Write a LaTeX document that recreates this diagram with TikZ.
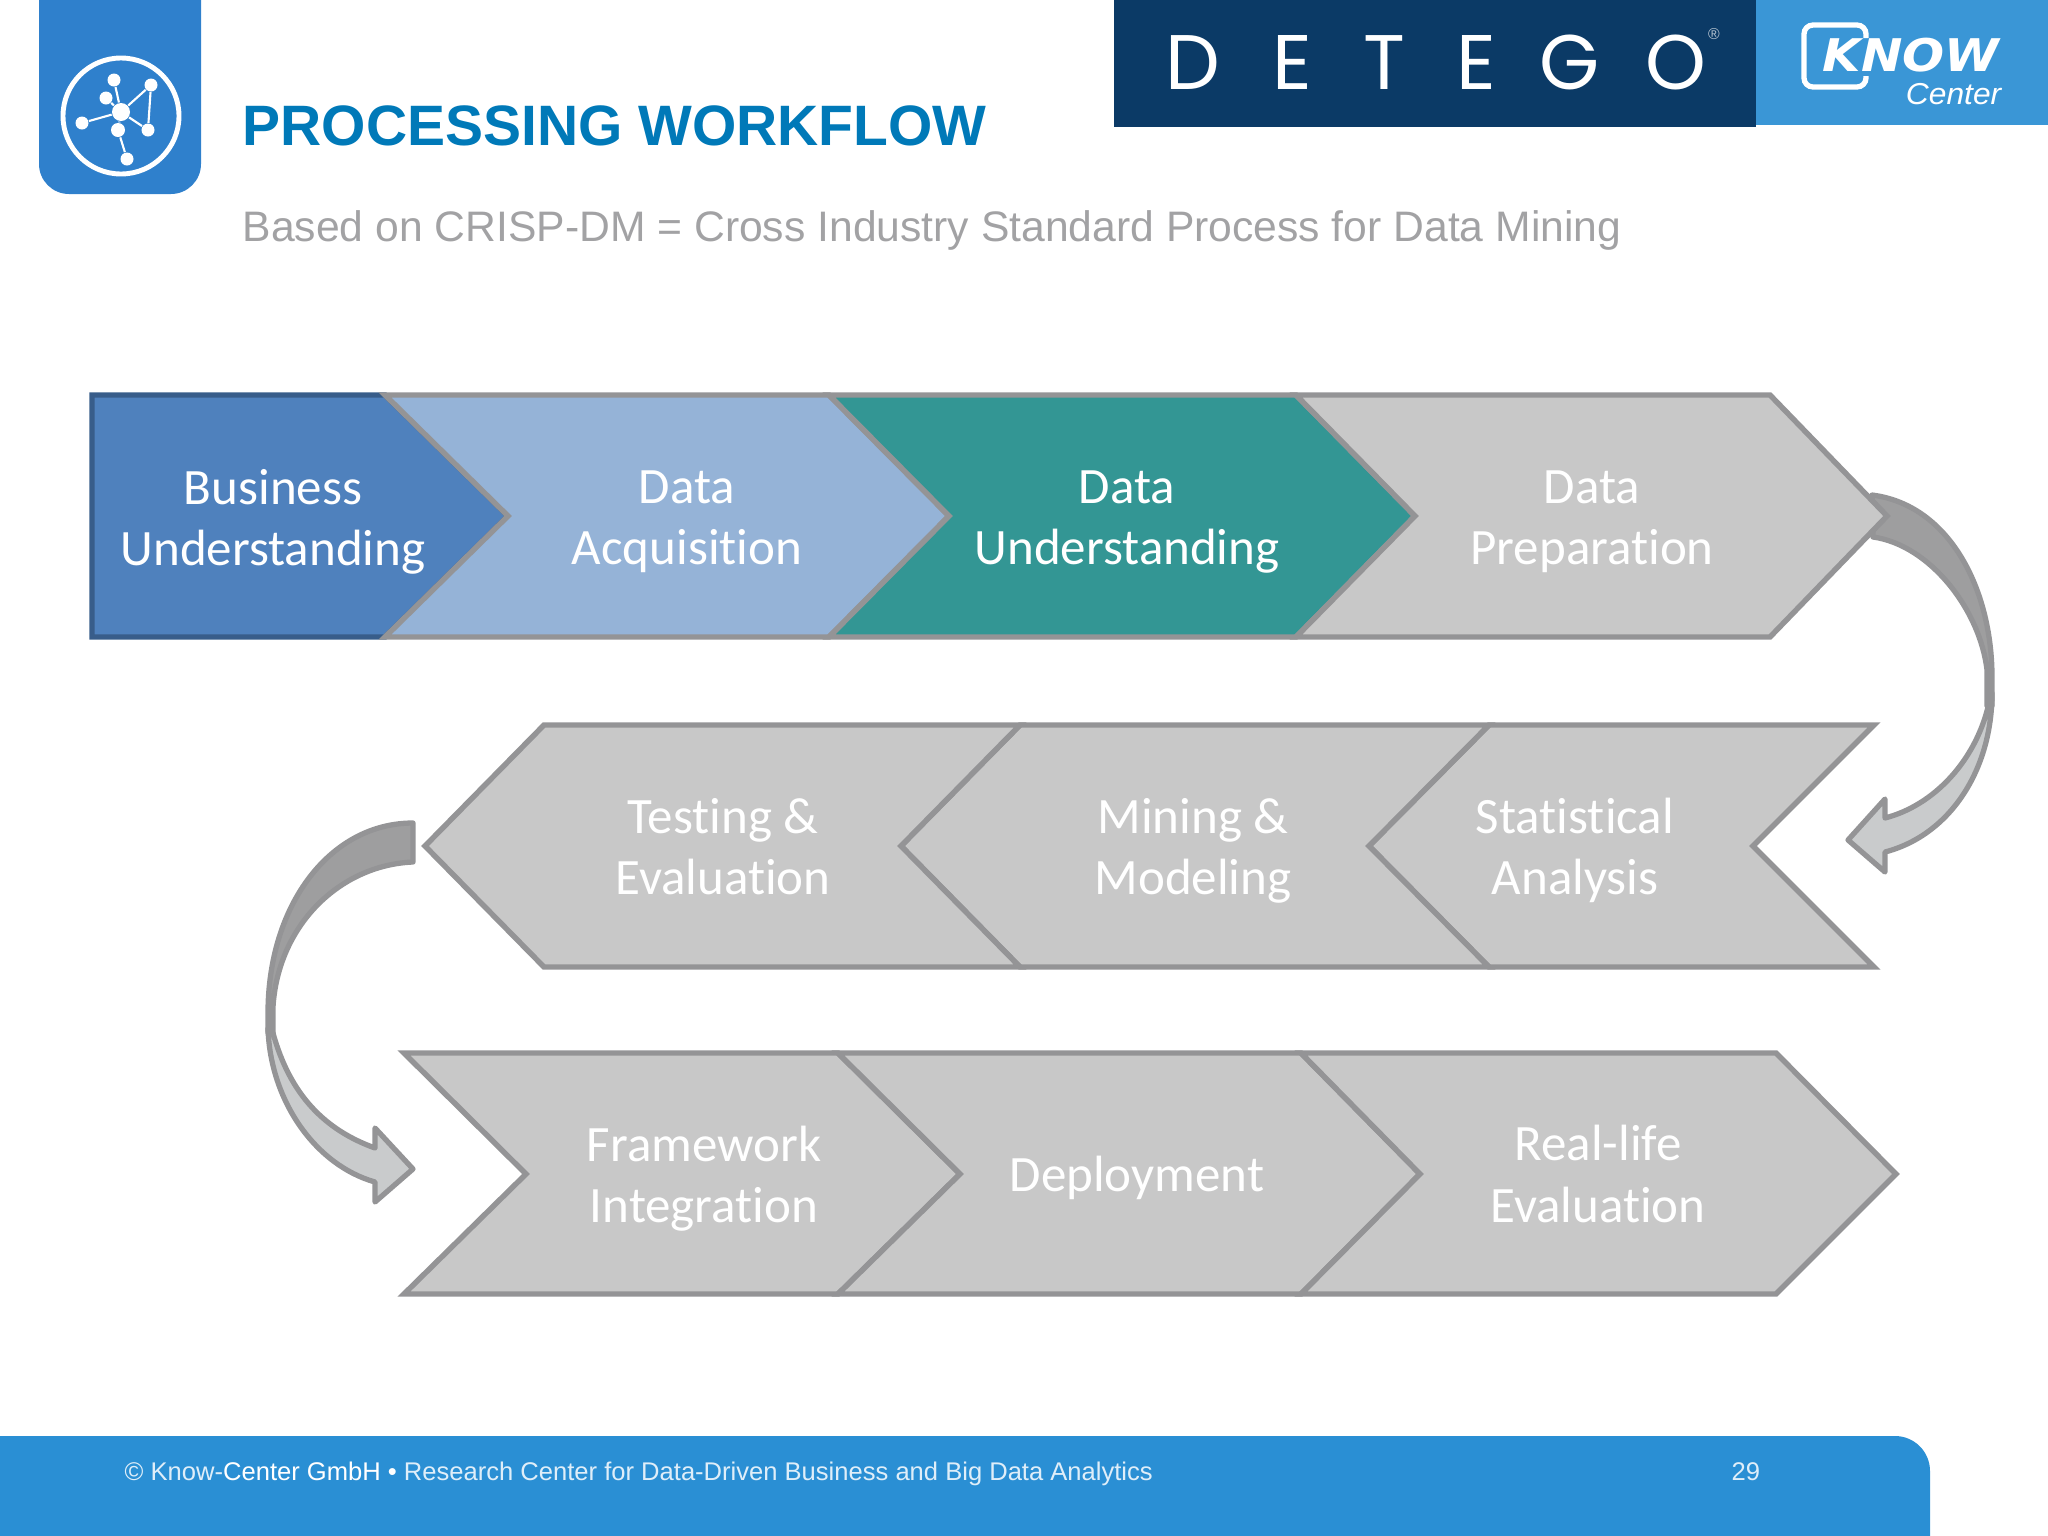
\documentclass[tikz,border=0pt]{standalone}
\usepackage{fontspec}
\setmainfont{Carlito}[Ligatures=NoCommon]
\newfontfamily\arialfont{Liberation Sans}
\newfontfamily\heavyfont{DejaVu Sans}
\newfontfamily\logofont{Poppins}

\definecolor{iconblue}{HTML}{2F80CC}
\definecolor{footblue}{HTML}{2A8FD4}
\definecolor{knowblue}{HTML}{3A96D6}
\definecolor{detegoblue}{HTML}{0B3A66}
\definecolor{titleblue}{HTML}{0079B8}
\definecolor{subgrey}{HTML}{A2A2A4}
\definecolor{edgegrey}{HTML}{949496}
\definecolor{chevgrey}{HTML}{C8C8C8}
\definecolor{darkarrow}{HTML}{9E9E9F}
\definecolor{lightarrow}{HTML}{C9CBCC}
\definecolor{bizblue}{HTML}{4F81BD}
\definecolor{bizedge}{HTML}{385D8A}
\definecolor{acqblue}{HTML}{95B3D7}
\definecolor{undteal}{HTML}{339694}

\tikzset{
  chevron/.style={draw=edgegrey, line width=1.55pt, line join=miter, fill=chevgrey},
  curvearrow/.style={draw=edgegrey, line width=1.5pt, line join=round},
  steplabel/.style={text=white, align=center, font=\fontsize{14.5}{17.4}\selectfont},
  icondot/.style={circle, fill=white, inner sep=0pt, minimum size=#1},
  iconline/.style={draw=white, line width=.6pt},
  letter/.style={text=white, inner sep=0pt, font=\logofont\fontsize{22}{22}\selectfont},
}

\begin{document}
\begin{tikzpicture}[x=.01cm, y=-.01cm]

\useasboundingbox (0,0) rectangle (2048,1536) ;

\fill [iconblue, rounded corners=.3cm] (39,-50) rectangle (201,194) ;
\draw [white, line width=1.4pt] (121,116) circle [radius=58] ;
\node (hub) [icondot=18*.01cm] at (121,112) {} ;
\node (top) [icondot=13*.01cm] at (114,80) {} ;
\node (upright) [icondot=13*.01cm] at (151,85) {} ;
\node (upleft) [icondot=13*.01cm] at (106,98) {} ;
\node (left) [icondot=13*.01cm] at (82,123) {} ;
\node (below) [icondot=14*.01cm] at (118,130) {} ;
\node (right) [icondot=13*.01cm] at (148,130) {} ;
\node (bottom) [icondot=13*.01cm] at (127,159) {} ;
\draw [iconline] (hub) -- (top) ;
\draw [iconline] (hub) -- (upright) ;
\draw [iconline] (upright) -- (right) ;
\draw [iconline] (hub) -- (right) ;
\draw [iconline] (hub) -- (left) ;
\draw [iconline] (hub) -- (upleft) ;
\draw [iconline] (hub) -- (below) ;
\draw [iconline] (below) -- (bottom) ;

\node (title) [anchor=base west, inner sep=0pt, text=titleblue, font=\arialfont\bfseries\fontsize{16.2}{20}\selectfont] at (242,145) {PROCESSING WORKFLOW} ;
\node (subtitle) [anchor=base west, inner sep=0pt, text=subgrey, font=\arialfont\fontsize{12.13}{14}\selectfont] at (242,241) {Based on CRISP-DM = Cross Industry Standard Process for Data Mining} ;

\fill [detegoblue] (1114,0) rectangle (1756,127) ;
\fill [knowblue] (1756,0) rectangle (2048,125) ;
\node (d1) [letter, anchor=base] at (1193,89) {D} ;
\node (e1) [letter, anchor=base] at (1292,89) {E} ;
\node (t1) [letter, anchor=base] at (1384,89) {T} ;
\node (e2) [letter, anchor=base] at (1476,89) {E} ;
\node (g1) [letter, anchor=base] at (1570,89) {G} ;
\node (o1) [letter, anchor=base] at (1676,89) {O} ;
\node (reg) [text=white!70!detegoblue, inner sep=0pt, font=\arialfont\fontsize{4.5}{5}\selectfont] at (1714,34) {®} ;

\draw [white, line width=1.5pt, rounded corners=.09cm] (1866,38) -- (1866,25) -- (1804,25) -- (1804,87) -- (1866,87) -- (1866,76) ;
\node (know) [anchor=base, inner sep=0pt, text=white, xscale=1.1, font=\heavyfont\bfseries\itshape\fontsize{12.8}{14}\selectfont] at (1911,71) {KNOW} ;
\node (center) [anchor=base east, inner sep=0pt, text=white, xscale=1.05, font=\arialfont\itshape\fontsize{8.6}{10}\selectfont] at (2002,104) {Center} ;

\draw [curvearrow, fill=darkarrow] (1872,495) .. controls (1950,505) and (1992,590) .. (1992,677) -- (1992,706) -- (1987,706) -- (1987,670) .. controls (1980,610) and (1930,545) .. (1873,537) -- cycle ;
\draw [curvearrow, fill=lightarrow] (1992,693) .. controls (1992,770) and (1950,835) .. (1885,852) -- (1885,872) -- (1848,840) -- (1885,799) -- (1885,818) .. controls (1935,805) and (1975,760) .. (1988,707) -- cycle ;

\draw [curvearrow, fill=darkarrow] (413,823) .. controls (330,823) and (268,905) .. (268,1013) -- (268,1033) -- (273,1033) -- (273,1007) .. controls (278,925) and (340,865) .. (413,862) -- cycle ;
\draw [curvearrow, fill=lightarrow] (268,1028) .. controls (270,1100) and (315,1165) .. (375,1182) -- (375,1202) -- (413,1169) -- (375,1128) -- (375,1148) .. controls (325,1130) and (290,1095) .. (273,1033) -- cycle ;

\draw [chevron, draw=bizedge, fill=bizblue] (92,395) -- (385,395) -- (508,516) -- (385,637) -- (92,637) -- cycle ;
\draw [chevron, fill=acqblue] (385,395) -- (829,395) -- (949,516) -- (829,637) -- (385,637) -- (508,516) -- cycle ;
\draw [chevron, fill=undteal] (829,395) -- (1296,395) -- (1415,516) -- (1296,637) -- (829,637) -- (949,516) -- cycle ;
\draw [chevron] (1296,395) -- (1770,395) -- (1887,516) -- (1770,637) -- (1296,637) -- (1415,516) -- cycle ;

\draw [chevron] (1874,725) -- (1489,725) -- (1369,846) -- (1489,967) -- (1874,967) -- (1753,846) -- cycle ;
\draw [chevron] (1489,725) -- (1020,725) -- (901,846) -- (1020,967) -- (1489,967) -- (1369,846) -- cycle ;
\draw [chevron] (1020,725) -- (544,725) -- (425,846) -- (544,967) -- (1020,967) -- (901,846) -- cycle ;

\draw [chevron] (404,1053) -- (838,1053) -- (960,1174) -- (838,1294) -- (404,1294) -- (526,1174) -- cycle ;
\draw [chevron] (838,1053) -- (1301,1053) -- (1420,1174) -- (1301,1294) -- (838,1294) -- (960,1174) -- cycle ;
\draw [chevron] (1301,1053) -- (1776,1053) -- (1896,1174) -- (1776,1294) -- (1301,1294) -- (1420,1174) -- cycle ;

\node (business) [steplabel] at (273,522) {Business\\Understanding} ;
\node (acquisition) [steplabel] at (687,522) {Data\\Acquisition} ;
\node (understanding) [steplabel] at (1127,522) {Data\\Understanding} ;
\node (preparation) [steplabel] at (1592,522) {Data\\Preparation} ;
\node (statistical) [steplabel] at (1575,850) {Statistical\\Analysis} ;
\node (mining) [steplabel] at (1193,851) {Mining \&\\Modeling} ;
\node (testing) [steplabel] at (723,847) {Testing \&\\Evaluation} ;
\node (framework) [steplabel] at (704,1179) {Framework\\Integration} ;
\node (deployment) [steplabel] at (1137,1178) {Deployment} ;
\node (reallife) [steplabel] at (1598,1174) {Real-life\\Evaluation} ;

\fill [footblue, rounded corners=.35cm] (-50,1436) -- (1930,1436) -- (1930,1600) -- (-50,1600) -- cycle ;
\node (footer) [anchor=base west, inner sep=0pt, text=white!85!footblue, font=\arialfont\fontsize{7.27}{9}\selectfont] at (124,1480) {© Know-\textcolor{white}{Center GmbH •} Research Center for Data-Driven Business and Big Data Analytics} ;
\node (pagenr) [anchor=base west, inner sep=0pt, text=white!85!footblue, font=\arialfont\fontsize{7.27}{9}\selectfont] at (1731,1480) {29} ;

\end{tikzpicture}
\end{document}
